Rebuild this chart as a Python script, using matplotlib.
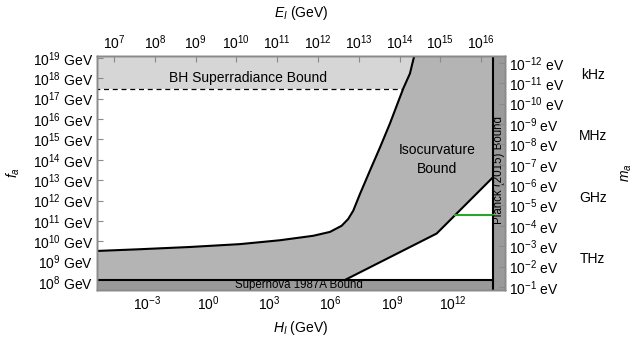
import matplotlib
matplotlib.use('Agg')
import matplotlib.pyplot as plt
from matplotlib.ticker import NullLocator
import numpy as np

plt.rcParams['font.family'] = ['Liberation Sans', 'DejaVu Sans']
plt.rcParams['mathtext.fontset'] = 'custom'
plt.rcParams['mathtext.rm'] = 'Liberation Sans'
plt.rcParams['mathtext.it'] = 'Liberation Sans:italic'

# axis ranges (log10 of H_I in GeV, f_a in GeV)
h_range = [-5.46, 14.54]
f_range = [7.61, 19.09]

# isocurvature bound, upper-left edge (log10 values)
iso_upper_h = [-5.6, -3.36, -0.91, 1.54, 3.50, 5.14, 5.96, 6.53, 6.85, 7.10, 7.43, 7.92,
               8.41, 8.90, 9.55, 9.88, 10.04, 10.12]
iso_upper_f = [9.52, 9.61, 9.72, 9.86, 10.05, 10.27, 10.46, 10.76, 11.09, 11.50, 12.32, 13.47,
               14.60, 15.78, 17.49, 18.23, 18.89, 19.2]
# isocurvature bound, lower-right edge
iso_lower_h = [6.69, 11.19, 13.95]
iso_lower_f = [8.10, 10.38, 13.14]

supernova_f = 8.10
planck_h = 13.95
bh_f = 17.49
bh_end_h = 9.55
green_h = [12.08, 13.95]
green_f = [11.28, 11.28]

# conversions
ma_const = 5.7e6          # m_a [eV] = 5.7e6 / f_a [GeV]
ei_offset = 9.312          # log E_I = 0.5 log H_I + offset

left_ticks = list(range(8, 20))
right_ticks = list(range(-12, 0))
bottom_ticks = [-3, 0, 3, 6, 9, 12]
top_ticks = list(range(7, 17))
freq_names = ['kHz', 'MHz', 'GHz', 'THz']
freq_ev = [4.1e-12, 4.1e-9, 4.1e-6, 4.1e-3]

light = '#d6d6d6'
mid = '#b4b4b4'
dark = '#9a9a9a'
frame = '#8a8a8a'

fig = plt.figure(figsize=(6.41, 3.39), dpi=100)
ax = fig.add_axes([97/641, 49/339, 408/641, 234/339])

xl = [10.0**v for v in h_range]
yl = [10.0**v for v in f_range]
far_x = [1e-6, 1e15]
far_y = [1e7, 1e20]

# BH superradiance band
ax.fill_between(far_x, 10.0**bh_f, far_y[1], color=light, lw=0, zorder=1)

# isocurvature region
poly_h = iso_upper_h + [planck_h, planck_h] + iso_lower_h[::-1] + [-5.6]
poly_f = iso_upper_f + [19.2, iso_lower_f[-1]] + iso_lower_f[::-1] + [supernova_f]
ax.fill(10.0**np.array(poly_h), 10.0**np.array(poly_f), color=mid, lw=0, zorder=2)

# supernova strip and planck strip
ax.fill_between(far_x, far_y[0], 10.0**supernova_f, color=dark, lw=0, zorder=3)
ax.fill_betweenx(far_y, 10.0**planck_h, far_x[1], color=dark, lw=0, zorder=3)

# boundary lines
ax.plot(10.0**np.array(iso_upper_h), 10.0**np.array(iso_upper_f), color='black', lw=1.5,
        solid_joinstyle='round', zorder=5)
ax.plot(10.0**np.array(iso_lower_h), 10.0**np.array(iso_lower_f), color='black', lw=1.5, zorder=5)
ax.plot([far_x[0], 10.0**planck_h], [10.0**supernova_f]*2, color='black', lw=1.5, zorder=5)
ax.plot([10.0**planck_h]*2, far_y, color='black', lw=1.5, zorder=5)
ax.plot([far_x[0], 10.0**bh_end_h], [10.0**bh_f]*2, color='black', lw=0.9, ls=(0, (4, 3)), zorder=5)
ax.plot(10.0**np.array(green_h), 10.0**np.array(green_f), color='#2aa52a', lw=1.5, zorder=5)

# region labels
ax.text(10**1.94, 10**18.02, 'BH Superradiance Bound', ha='center', va='center', fontsize=10, zorder=6)
ax.text(10**11.2, 10**14.01, 'Isocurvature\nBound', ha='center', va='center', fontsize=10,
        linespacing=1.45, zorder=6)
ax.text(10**4.46, 10**7.85, 'Supernova 1987A Bound', ha='center', va='center', fontsize=8.3, zorder=6)
ax.text(10**14.25, 10**13.52, 'Planck (2015) Bound', ha='center', va='center', fontsize=8.3,
        rotation=90, zorder=6)

ax.set_xscale('log')
ax.set_yscale('log')
ax.set_xlim(xl)
ax.set_ylim(yl)
ax.set_xticks([10.0**k for k in bottom_ticks])
ax.set_xticklabels([rf'$10^{{{k}}}$' for k in bottom_ticks])
ax.set_yticks([10.0**k for k in left_ticks])
ax.set_yticklabels([rf'$10^{{{k}}}$ GeV' for k in left_ticks])
ax.xaxis.set_minor_locator(NullLocator())
ax.yaxis.set_minor_locator(NullLocator())
ax.set_xlabel(r'$H_I$ (GeV)', fontsize=10)
ax.set_ylabel(r'$f_a$', fontsize=10)
ax.xaxis.set_label_coords(0.5, -0.125)
ax.yaxis.set_label_coords(-0.185, 0.5)

# right axis: axion mass
ax2 = ax.twinx()
ax2.set_yscale('log')
ax2.set_ylim(ma_const / yl[0], ma_const / yl[1])
ax2.set_yticks([10.0**k for k in right_ticks])
ax2.set_yticklabels([rf'$10^{{{k}}}$ eV' for k in right_ticks])
ax2.yaxis.set_minor_locator(NullLocator())
ax2.set_ylabel(r'$m_a$', fontsize=10)
ax2.yaxis.set_label_coords(1.28, 0.5)
for name, ev in zip(freq_names, freq_ev):
    ax2.text(1.215, ev, name, transform=ax2.get_yaxis_transform(), ha='center', va='center', fontsize=10)

# top axis: inflation energy scale
ax3 = ax.twiny()
ax3.set_xscale('log')
ax3.set_xlim([10.0**(0.5*v + ei_offset) for v in h_range])
ax3.set_xticks([10.0**k for k in top_ticks])
ax3.set_xticklabels([rf'$10^{{{k}}}$' for k in top_ticks])
ax3.xaxis.set_minor_locator(NullLocator())
ax3.set_xlabel(r'$E_I$ (GeV)', fontsize=10)
ax3.xaxis.set_label_coords(0.5, 1.165)

for a in (ax, ax2, ax3):
    a.tick_params(direction='in', length=4, width=0.8, color=frame, labelsize=10, pad=3)
    for s in a.spines.values():
        s.set_color(frame)
        s.set_linewidth(1.0)

fig.savefig('out.png', dpi=100)
